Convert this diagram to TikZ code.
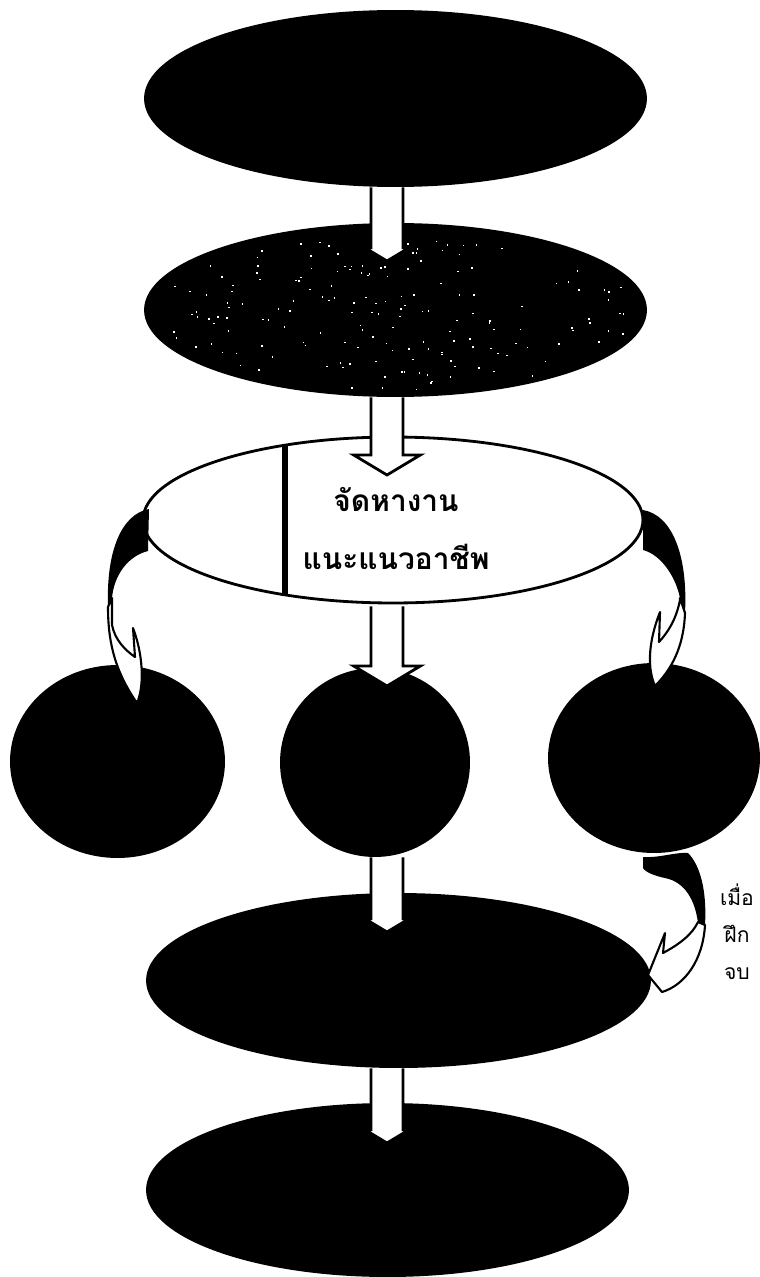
\documentclass[tikz,border=0pt]{standalone}
\usepackage{fontspec}
\newfontfamily\thaifont[Script=Thai]{Loma}
\usetikzlibrary{shapes.geometric,calc}
\tikzset{
  blob/.style={ellipse,fill=black,inner sep=0pt},
  openblob/.style={ellipse,fill=white,draw=black,line width=1.6pt,inner sep=0pt},
  blockarrow/.style={fill=white,draw=black,line width=1.6pt,line join=miter},
  bentarrow/.style={fill=white,draw=black,line width=1.2pt,line join=round},
  bandfill/.style={fill=black},
  speck/.style={fill=white},
  maintext/.style={font=\thaifont\bfseries\fontsize{17}{33}\selectfont,align=center,inner sep=0pt},
  sidetext/.style={font=\thaifont\fontsize{12}{21}\selectfont,align=center,inner sep=0pt}
}
\newcommand{\blockarr}[3]{%
  \path[blockarrow] let \p1=(#1), \p2=(#2) in
   (\x2-0.32cm,\y1) -- (\x2-0.32cm,\y2+0.6*#3) -- (\x2-#3,\y2+0.6*#3) -- (\x2,\y2)
   -- (\x2+#3,\y2+0.6*#3) -- (\x2+0.32cm,\y2+0.6*#3) -- (\x2+0.32cm,\y1);}
\begin{document}
\begin{tikzpicture}[x=0.02cm,y=-0.02cm]
\useasboundingbox (0,0) rectangle (760,1277);
% shapes
\node[blob,minimum width=10.06cm,minimum height=3.54cm] (e1) at (395.5,98.5) {};
\node[blob,minimum width=10.06cm,minimum height=3.48cm] (e2) at (395.5,310) {};
\node[openblob,minimum width=10cm,minimum height=3.32cm] (e3) at (393,520) {};
\node[blob,minimum width=4.3cm,minimum height=3.86cm] (c1) at (117.5,761.5) {};
\node[blob,minimum width=3.8cm,minimum height=3.78cm] (c2) at (375,762.5) {};
\node[blob,minimum width=4.24cm,minimum height=3.8cm] (c3) at (654,758) {};
\node[blob,minimum width=10.1cm,minimum height=3.5cm] (e4) at (398.5,980.5) {};
\node[blob,minimum width=9.66cm,minimum height=3.48cm] (e5) at (387.5,1190) {};
% speckled texture of e2
\pgfmathsetseed{11}
\foreach \i in {1,...,170}{
  \pgfmathsetmacro{\rrad}{sqrt(rnd)}
  \pgfmathsetmacro{\ang}{360*rnd}
  \fill[speck] ($(e2.center)+({238*\rrad*cos(\ang)},{80*\rrad*sin(\ang)})$) rectangle ++(1.6,1.6);
}
% divider in e3
\coordinate (v1) at (285,445);
\coordinate (v2) at (285,595);
\draw[line width=3.5pt] (v1) -- (v2);
\node[maintext] (t3) at (396,529) {จัดหางาน\\แนะแนวอาชีพ};
% straight block arrows
\coordinate (a12) at (387,261);
\coordinate (a23) at (387,475);
\coordinate (a3c) at (387,686);
\coordinate (ac4) at (387,932);
\coordinate (a45) at (387,1143);
\blockarr{e1.south}{a12}{0.44cm}
\blockarr{e2.south}{a23}{0.67cm}
\blockarr{$(e3.south)+(0,2)$}{a3c}{0.67cm}
\blockarr{c2.south}{ac4}{0.44cm}
\blockarr{e4.south}{a45}{0.44cm}
% left curved arrow e3 -> c1
\fill[bandfill] (149,509) .. controls (122,514) and (106,550) .. (108,607) -- (112,598)
  .. controls (114,575) and (128,556) .. (148,551) -- cycle;
\path[bentarrow] (112,598) -- (108,607) .. controls (108,640) and (114,670) .. (137,703)
  .. controls (143,690) and (145,660) .. (133,628) -- (135,657)
  .. controls (125,650) and (115,640) .. (112,625) -- cycle;
% right curved arrow e3 -> c3
\fill[bandfill] (643,510) .. controls (672,515) and (688,555) .. (685,613) -- (680,598)
  .. controls (676,578) and (662,555) .. (643,550) -- cycle;
\path[bentarrow] (680,598) -- (685,613) .. controls (684,640) and (676,665) .. (655,686)
  .. controls (648,670) and (647,645) .. (660,612) -- (659,642)
  .. controls (668,632) and (676,620) .. (680,600) -- cycle;
% bottom-right curved arrow c3 -> e4
\fill[bandfill] (643,857) .. controls (660,858) and (675,852) .. (688,853)
  .. controls (700,865) and (707,890) .. (705,925) -- (698,923)
  .. controls (695,900) and (685,882) .. (665,878)
  .. controls (655,876) and (645,872) .. (643,868) -- cycle;
\path[bentarrow] (698,922) -- (705,925) .. controls (703,960) and (685,985) .. (662,992)
  -- (648,975) -- (665,933) -- (663,953)
  .. controls (678,945) and (692,935) .. (698,922) -- cycle;
\node[sidetext] (side) at (737,932) {เมื่อ\\ฝึก\\จบ};
\end{tikzpicture}
\end{document}
